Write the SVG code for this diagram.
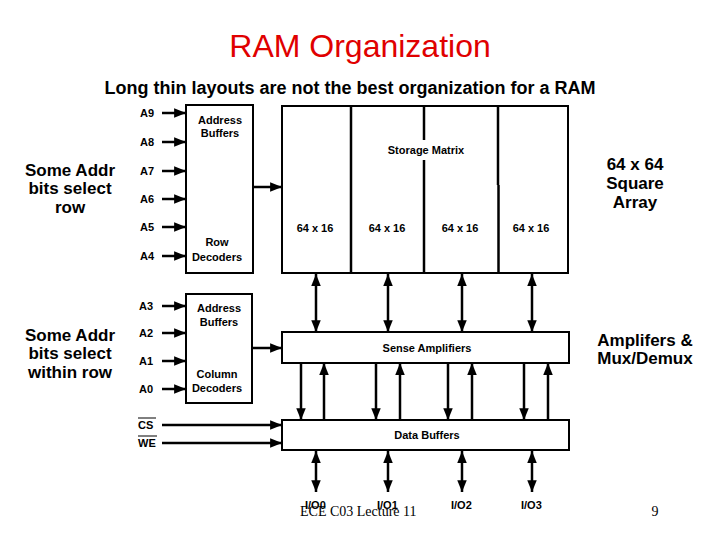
<svg xmlns="http://www.w3.org/2000/svg" width="720" height="540" viewBox="0 0 720 540">
<style>
.box{fill:#fff;stroke:#000;stroke-width:2}
.ln{stroke:#000;stroke-width:2.5;fill:none}
.t{font-family:"Liberation Sans",Arial,sans-serif;font-weight:bold;fill:#000;text-anchor:middle}
.s{font-size:11px}
.b{font-size:17px}
.lab{font-family:"Liberation Sans",Arial,sans-serif;font-weight:bold;font-size:11px;fill:#000}
</style>
<defs>
<marker id="ah" viewBox="0 0 10 8" refX="10" refY="4" markerWidth="4.8" markerHeight="3.8" orient="auto-start-reverse" markerUnits="strokeWidth"><path d="M0,0 L10,4 L0,8 Z" fill="#000"/></marker>
</defs>
<rect width="720" height="540" fill="#fff"/>
<text x="360" y="57" text-anchor="middle" font-family="Liberation Sans,Arial,sans-serif" font-size="32" fill="#e00000">RAM Organization</text>
<text x="350" y="94" class="t" font-size="18">Long thin layouts are not the best organization for a RAM</text>
<g id="row-label"><text class="t b" x="70" y="176">Some Addr</text><text class="t b" x="70" y="194">bits select</text><text class="t b" x="70" y="213">row</text></g>
<g id="col-label"><text class="t b" x="70" y="341">Some Addr</text><text class="t b" x="70" y="359">bits select</text><text class="t b" x="70" y="378">within row</text></g>
<g id="square-label"><text class="t b" x="635" y="170">64 x 64</text><text class="t b" x="635" y="189">Square</text><text class="t b" x="635" y="208">Array</text></g>
<g id="amp-label"><text class="t b" x="645" y="346">Amplifers &amp;</text><text class="t b" x="645" y="364">Mux/Demux</text></g>
<g id="row-decoder"><rect class="box" x="186" y="105" width="67" height="168"/><text class="t s" x="220" y="124">Address</text><text class="t s" x="220" y="137">Buffers</text><text class="t s" x="217" y="246">Row</text><text class="t s" x="217" y="261">Decoders</text></g>
<g id="col-decoder"><rect class="box" x="186" y="294" width="66" height="109"/><text class="t s" x="219" y="312">Address</text><text class="t s" x="219" y="326">Buffers</text><text class="t s" x="217" y="378">Column</text><text class="t s" x="217" y="392">Decoders</text></g>
<g id="storage-matrix"><rect class="box" x="282" y="106" width="286" height="167"/>
<line class="ln" x1="351" y1="106" x2="351" y2="273"/>
<line class="ln" x1="424" y1="106" x2="424" y2="140"/><line class="ln" x1="424" y1="160" x2="424" y2="273"/>
<line class="ln" x1="498" y1="106" x2="498" y2="185"/><line class="ln" x1="498.5" y1="185" x2="498.5" y2="273"/>
<text class="t s" x="426" y="154">Storage Matrix</text>
<text class="t s" x="315" y="232">64 x 16</text><text class="t s" x="387" y="232">64 x 16</text><text class="t s" x="460" y="232">64 x 16</text><text class="t s" x="531" y="232">64 x 16</text></g>
<g id="sense-amps"><rect class="box" x="282" y="332" width="287" height="31"/><text class="t s" x="427" y="352">Sense Amplifiers</text></g>
<g id="data-buffers"><rect class="box" x="282" y="420" width="287" height="30"/><text class="t s" x="427" y="439">Data Buffers</text></g>
<g id="addr-labels">
<text class="lab" x="140" y="117">A9</text><text class="lab" x="140" y="146">A8</text><text class="lab" x="140" y="175">A7</text><text class="lab" x="140" y="203">A6</text><text class="lab" x="140" y="231">A5</text><text class="lab" x="140" y="260">A4</text>
<text class="lab" x="139" y="310">A3</text><text class="lab" x="139" y="337">A2</text><text class="lab" x="139" y="365">A1</text><text class="lab" x="139" y="393">A0</text>
<text class="lab" x="138" y="429">CS</text><line x1="138" y1="418" x2="156" y2="418" stroke="#000" stroke-width="1"/>
<text class="lab" x="138" y="447">WE</text><line x1="138" y1="436" x2="157" y2="436" stroke="#000" stroke-width="1"/>
<text class="lab" x="305" y="509">I/O0</text><text class="lab" x="377" y="509">I/O1</text><text class="lab" x="451" y="509">I/O2</text><text class="lab" x="521" y="509">I/O3</text>
</g>
<g id="connectors" stroke="#000" stroke-width="2.5" fill="none">
<line x1="162" y1="113" x2="186" y2="113" marker-end="url(#ah)"/>
<line x1="162" y1="142" x2="186" y2="142" marker-end="url(#ah)"/>
<line x1="162" y1="171" x2="186" y2="171" marker-end="url(#ah)"/>
<line x1="162" y1="199" x2="186" y2="199" marker-end="url(#ah)"/>
<line x1="162" y1="227" x2="186" y2="227" marker-end="url(#ah)"/>
<line x1="162" y1="256" x2="186" y2="256" marker-end="url(#ah)"/>
<line x1="162" y1="306" x2="186" y2="306" marker-end="url(#ah)"/>
<line x1="162" y1="333" x2="186" y2="333" marker-end="url(#ah)"/>
<line x1="162" y1="361" x2="186" y2="361" marker-end="url(#ah)"/>
<line x1="162" y1="389" x2="186" y2="389" marker-end="url(#ah)"/>
<line x1="162" y1="425" x2="282" y2="425" marker-end="url(#ah)"/>
<line x1="162" y1="443" x2="282" y2="443" marker-end="url(#ah)"/>
<line x1="253" y1="187" x2="282" y2="187" marker-end="url(#ah)"/>
<line x1="252" y1="348" x2="282" y2="348" marker-end="url(#ah)"/>
<line x1="316" y1="274" x2="316" y2="332" marker-start="url(#ah)" marker-end="url(#ah)"/>
<line x1="388" y1="274" x2="388" y2="332" marker-start="url(#ah)" marker-end="url(#ah)"/>
<line x1="462" y1="274" x2="462" y2="332" marker-start="url(#ah)" marker-end="url(#ah)"/>
<line x1="532" y1="274" x2="532" y2="332" marker-start="url(#ah)" marker-end="url(#ah)"/>
<line x1="301" y1="363" x2="301" y2="420" marker-end="url(#ah)"/>
<line x1="324" y1="420" x2="324" y2="363" marker-end="url(#ah)"/>
<line x1="376" y1="363" x2="376" y2="420" marker-end="url(#ah)"/>
<line x1="400" y1="420" x2="400" y2="363" marker-end="url(#ah)"/>
<line x1="448" y1="363" x2="448" y2="420" marker-end="url(#ah)"/>
<line x1="472" y1="420" x2="472" y2="363" marker-end="url(#ah)"/>
<line x1="524" y1="363" x2="524" y2="420" marker-end="url(#ah)"/>
<line x1="548" y1="420" x2="548" y2="363" marker-end="url(#ah)"/>
<line x1="316" y1="451" x2="316" y2="492" marker-start="url(#ah)" marker-end="url(#ah)"/>
<line x1="388" y1="451" x2="388" y2="492" marker-start="url(#ah)" marker-end="url(#ah)"/>
<line x1="462" y1="451" x2="462" y2="492" marker-start="url(#ah)" marker-end="url(#ah)"/>
<line x1="532" y1="451" x2="532" y2="492" marker-start="url(#ah)" marker-end="url(#ah)"/>
</g>
<text x="300" y="516" font-family="Liberation Serif,'Times New Roman',serif" font-size="14" fill="#000">ECE C03 Lecture 11</text>
<text x="655" y="516" text-anchor="middle" font-family="Liberation Serif,'Times New Roman',serif" font-size="14" fill="#000">9</text>
</svg>
